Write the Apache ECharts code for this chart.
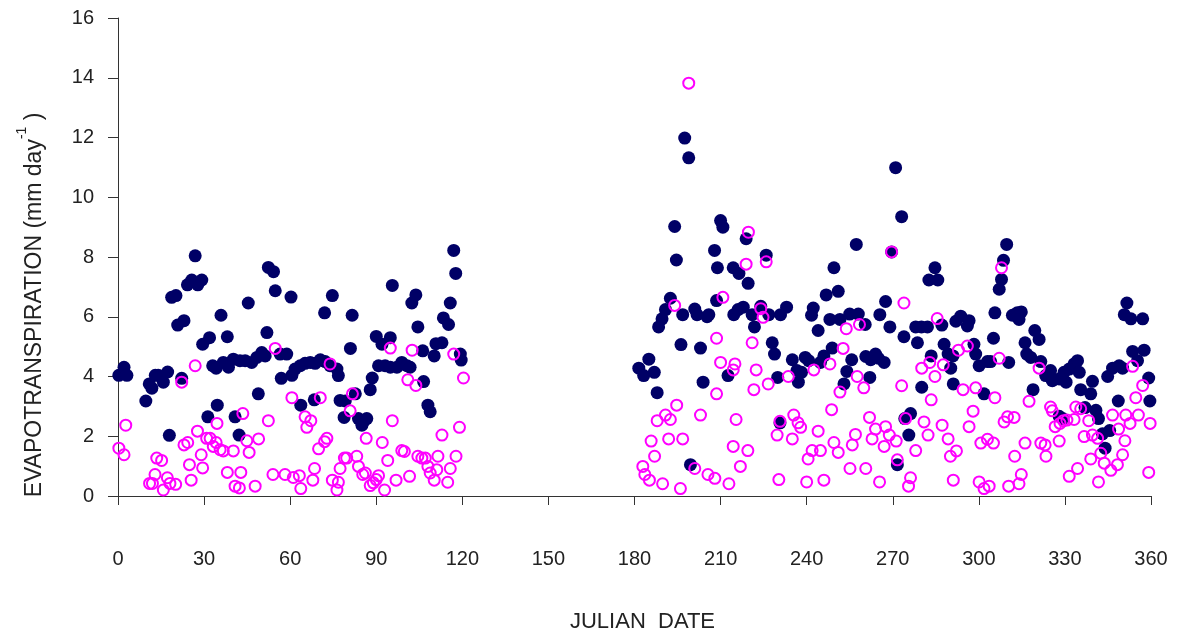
<!DOCTYPE html>
<html>
<head>
<meta charset="utf-8">
<script src="https://cdn.jsdelivr.net/npm/echarts@6/dist/echarts.min.js"></script>
<style>
html,body{margin:0;padding:0;background:#fff;}
#chart{width:1180px;height:638px;}
</style>
</head>
<body>
<div id="chart"></div>
<script>
// Julian date ticks
var xTicks = [0,30,60,90,120,150,180,210,240,270,300,330,360];
var yTicks = [0,2,4,6,8,10,12,14,16];

// Series 1 (navy filled circles): day and ET (mm/day)
var navyDays = [
0.3,2.1,3.1,9.7,10.9,11.8,13,14,15.8,17.3,17.9,18.7,20.2,20.8,23,22.2,24.2,25.7,26.9,27.8,29.2,29.5,31.9,31.3,33,34.2,34.6,35.9,36.7,38.5,40.2,42.5,44.3,46.6,48.4,50.1,51.3,38.1,40.8,42.2,45.4,48.9,51.9,52.4,54.2,54.8,56.5,58.8,56.9,60.3,60.6,
72,74.7,81.6,81,61.7,63.5,65.2,67,68.7,70.5,72.2,73.9,76.3,76.8,63.7,68.4,77.4,79.2,78.8,82.7,83.8,85.5,86.7,85,87.9,88.6,90,92,94.9,90.8,93.1,94.9,97.2,98.9,100.7,101.8,95.6,102.4,103.8,104.5,106.2,106.5,108,108.8,110.2,110.8,112.9,113.4,115.2,115.8,117,117.7,119.3,119.6,
197.5,198.9,194,210,210.8,218.9,207.9,225.9,194.6,208.9,214.4,216.4,219.6,192.5,190.8,189.6,188.4,196.8,201,201.8,205.3,205.9,208.6,214.6,216.1,217.9,221,224,226.8,230.9,221.8,196.2,203,228,228.8,185,181.5,183.2,186.9,187.9,203.9,212.6,229.9,230.7,199.5,
271,273.1,257.3,269.6,249.5,284.7,282.6,285.7,246.8,251,267.5,233,242.3,241.7,248.1,251.6,255,258,260.4,265.5,269,273.9,278,280,282.1,287.1,244,278.6,287.9,289.3,291,290.2,235,239.5,240.7,244.8,246,248.9,236.6,238.2,237.1,254,253,255.7,260.6,262.3,264,265,267,262,283.4,280.1,291.1,276.2,274.2,275.6,271.6,
309.7,308.6,307.9,307.1,351.6,350.7,353,357.1,292,293.7,296.6,296,305.6,311.7,313.4,314.8,314,305.1,319.5,321,316.1,298.3,316.7,318.1,298.9,300.1,303,304.1,310.4,321.6,325,323.3,325.6,328,329.7,331.5,333.2,334.4,335,330.4,301.8,318.9,339.6,335.5,339,344.9,346.6,348.9,350.1,353.6,355.3,357.6,359.2,348.6,359.6,337,340.8,341.7,328,329.2,343.1,345.6,344
];
var navyET = [
4.04,4.31,4.04,3.18,3.75,3.61,4.04,4.04,3.81,4.15,2.03,6.65,6.71,5.72,5.87,3.94,7.07,7.23,8.04,7.07,7.23,5.08,5.30,2.65,4.36,4.28,3.04,6.05,4.47,4.31,4.58,4.53,4.53,4.47,4.64,4.80,4.69,5.33,2.65,2.04,6.46,3.42,5.47,7.65,7.51,6.87,4.75,4.75,3.94,6.66,4.04,
6.13,6.71,6.05,4.94,4.25,4.36,4.44,4.47,4.44,4.56,4.50,4.36,4.25,4.03,3.04,3.22,3.20,3.18,2.63,3.42,2.59,2.48,2.59,2.37,3.56,3.95,5.34,5.08,5.30,4.36,4.36,4.31,4.31,4.47,4.36,4.31,7.05,6.46,6.73,5.66,4.86,3.83,3.04,2.82,4.69,5.10,5.13,5.96,5.74,6.46,8.22,7.45,4.75,4.55,
11.98,11.32,9.02,9.22,9.00,8.61,8.22,8.06,7.90,7.64,7.64,7.45,7.12,6.62,6.24,5.93,5.66,6.07,6.26,6.07,6.00,6.07,6.54,6.07,6.24,6.32,6.07,6.35,6.07,6.07,5.66,5.07,4.95,5.13,4.75,4.58,4.28,4.03,4.14,3.46,3.81,4.03,3.97,2.45,1.05,
10.99,9.35,8.42,8.17,7.64,7.64,7.23,7.23,6.73,6.85,6.51,6.32,6.29,6.05,5.91,5.91,6.09,6.09,5.74,6.07,5.66,5.33,5.66,5.66,5.66,5.72,5.54,5.13,5.08,4.75,4.69,4.28,4.56,4.64,4.53,4.47,4.69,4.95,4.20,4.14,3.81,4.17,3.75,4.56,4.67,4.56,4.75,4.61,4.47,3.97,4.69,3.64,3.75,2.76,2.59,2.04,1.05,
8.42,7.89,7.25,6.92,6.46,6.07,5.93,5.93,5.85,6.02,5.87,5.69,6.13,6.05,6.13,6.16,5.91,5.28,5.54,5.24,5.13,5.08,4.75,4.64,4.75,4.36,4.50,4.50,4.47,4.50,4.20,4.03,3.86,3.92,4.14,4.25,4.42,4.53,4.14,3.81,3.42,3.56,3.84,3.56,3.42,4.00,4.28,4.36,4.28,4.84,4.53,4.88,3.95,3.18,3.18,2.96,2.87,2.59,2.67,2.59,2.08,2.19,1.60
];

// Series 2 (magenta open circles): day and ET (mm/day)
var magentaDays = [
0.3,2.1,2.7,11,12,13.5,15.2,12.9,15.8,17.2,18.1,20.1,22.2,23,24.3,24.9,25.5,26.9,27.7,29,29.5,30.9,32.1,33.2,34.2,34.5,35.6,36.7,38.1,40.2,40.8,42.3,42.8,43.5,44.9,45.7,47.8,49,52.4,54,58.2,54.8,60.6,61.1,
63.2,63.7,65.2,67.2,65.8,67.9,68.5,70.5,69.9,72,72.8,73.9,74.7,76.8,76.3,77.4,78.9,79.7,80.9,81.7,83.2,83.8,85.3,86.2,86.5,87.9,89,90,90.8,92.1,92.9,94,94.9,95.6,96.9,98.9,99.8,101,101.6,102.5,103.8,104.5,105.9,107.1,108,108.8,111.1,110.2,111.5,112.9,114.9,115.8,117,117.8,119,120.4,
198.9,219.7,225.9,218.9,194,210.8,224,224.8,208.6,221,210,214.4,215,222.4,208.6,221.6,226.6,194.7,190.8,192.5,187.9,203,215.4,230.7,229.7,185.8,191.9,196.8,187,214.4,219.5,216.9,182.9,183.6,185.2,189.8,196,201,205.6,208,212.9,230.3,
269.6,273.9,285.5,258.4,253.8,252.7,292.9,248.1,242.5,233.6,257.6,259.9,251.6,273.1,280.1,282.9,284.7,287.6,283.4,248.7,261.9,235.5,237,237.9,244,235,249.5,251,257,255.9,264,267.5,262.8,268.8,271.2,267,274.5,280.9,282.3,287.2,289.3,292.2,290.1,278,240.5,241.9,244.8,255.1,260.6,271.6,240,246,265.4,276.2,275.5,291.1,
307.9,321,307.1,296,353.6,357.1,294.5,298.9,305.6,317.5,354.7,325,325.6,333.8,335.5,298,308.8,310,312.3,296.6,326.6,328.3,329.5,330.7,333.2,338.3,346.6,351.2,355.6,352.7,359.7,348.7,336.7,339.6,341.4,350.9,328,300.7,303,305.1,316.1,321.6,323.1,312.5,323.4,339,342.5,343.7,346,348.3,350.1,314.8,314,331.5,334.4,341.7,359.2,300.1,301.8,303.6,310.4
];
var magentaET = [
1.60,1.38,2.37,0.42,0.42,1.27,1.19,0.72,0.20,0.61,0.42,0.39,3.81,1.71,1.79,1.05,0.53,4.36,2.17,1.38,0.94,1.93,1.93,1.66,1.79,2.43,1.55,1.51,0.79,1.51,0.33,0.27,0.79,2.76,1.85,1.46,0.33,1.91,2.52,0.72,0.72,4.94,3.29,0.62,
0.68,0.25,2.65,2.52,2.30,0.53,0.92,3.29,1.58,1.82,1.93,4.42,0.53,0.46,0.20,0.92,1.27,1.27,2.85,3.42,1.33,0.99,0.72,0.77,1.93,0.35,0.44,0.55,0.68,1.79,0.20,1.19,4.95,2.52,0.53,1.52,1.49,3.89,0.66,4.88,3.70,1.33,1.27,1.27,0.99,0.77,0.88,0.53,1.33,2.04,0.46,0.92,4.75,1.33,2.30,3.95,
13.82,8.83,7.84,7.76,6.38,6.65,6.27,5.98,5.28,5.13,4.47,4.22,4.42,4.22,3.42,3.56,3.75,3.04,2.71,2.56,2.52,2.71,2.56,2.50,2.04,1.84,1.91,1.91,1.33,1.66,1.52,0.99,0.99,0.72,0.53,0.41,0.25,0.92,0.72,0.59,0.41,0.55,
8.17,6.46,5.94,5.74,5.60,4.94,4.88,4.42,4.22,4.00,4.00,3.62,3.48,3.69,4.28,4.47,4.00,4.39,3.22,2.89,2.63,2.71,2.45,2.30,2.17,1.91,1.79,1.46,2.06,1.71,2.24,2.32,1.91,2.04,1.84,1.66,2.59,2.48,2.04,2.37,1.91,1.51,1.33,1.52,1.24,1.52,1.52,0.92,0.92,1.21,0.47,0.53,0.47,0.61,0.33,0.53,
7.64,4.28,4.61,5.02,4.34,3.70,3.56,3.62,3.29,3.17,3.29,2.98,2.85,2.98,2.92,2.84,2.48,2.65,2.63,2.32,2.32,2.43,2.52,2.54,2.56,2.52,2.71,2.71,2.71,2.43,2.43,2.24,1.99,2.04,1.93,1.85,1.84,1.77,1.90,1.77,1.77,1.77,1.71,1.33,1.33,1.24,1.43,1.10,0.86,1.05,1.38,0.72,0.41,0.66,0.92,0.47,0.79,0.47,0.25,0.33,0.33
];

function zip(a, b) { var out = []; for (var i = 0; i < a.length; i++) out.push([a[i], b[i]]); return out; }

var FONT = '"Liberation Sans", Arial, Helvetica, sans-serif';
var chart = echarts.init(document.getElementById('chart'), null, {renderer: 'canvas'});
chart.setOption({
  animation: false,
  backgroundColor: '#ffffff',
  grid: {left: 118, right: 29, top: 18, bottom: 139, containLabel: false},
  xAxis: {
    type: 'value', min: xTicks[0], max: xTicks[xTicks.length - 1], interval: 30,
    name: 'JULIAN  DATE', nameLocation: 'middle', nameGap: 115,
    nameTextStyle: {fontFamily: FONT, fontSize: 22, color: '#222', padding: [0, 0, 0, 16]},
    axisLine: {show: true, lineStyle: {color: '#333', width: 1}},
    axisTick: {show: true, inside: false, length: 9, lineStyle: {color: '#333'}},
    axisLabel: {fontFamily: FONT, fontSize: 20, color: '#222', margin: 53},
    splitLine: {show: false}
  },
  yAxis: {
    type: 'value', min: yTicks[0], max: yTicks[yTicks.length - 1], interval: 2,
    axisLine: {show: true, lineStyle: {color: '#333', width: 1}},
    axisTick: {show: true, inside: false, length: 10, lineStyle: {color: '#333'}},
    axisLabel: {fontFamily: FONT, fontSize: 20, color: '#222', margin: 24},
    splitLine: {show: false}
  },
  graphic: [{
    type: 'text', x: 35, y: 305, rotation: Math.PI / 2,
    style: {
      text: '{m|EVAPOTRANSPIRATION (mm day}{s|-1}{m| )}',
      align: 'center', verticalAlign: 'middle',
      fill: '#222', fontFamily: FONT,
      rich: {
        m: {fontSize: 23, fontFamily: FONT, fill: '#222', color: '#222', lineHeight: 40, verticalAlign: 'middle'},
        s: {fontSize: 14, fontFamily: FONT, fill: '#222', color: '#222', lineHeight: 14, verticalAlign: 'top'}
      }
    }
  }],
  series: [{
    type: 'scatter', name: 'A',
    data: zip(navyDays, navyET),
    symbol: 'circle', symbolSize: 13,
    itemStyle: {color: '#000066', opacity: 1},
    z: 2
  }, {
    type: 'scatter', name: 'B',
    data: zip(magentaDays, magentaET),
    symbol: 'circle', symbolSize: 11,
    itemStyle: {color: 'rgba(0,0,0,0)', borderColor: '#ff00ff', borderWidth: 2, opacity: 1},
    z: 3
  }]
});
</script>
</body>
</html>
